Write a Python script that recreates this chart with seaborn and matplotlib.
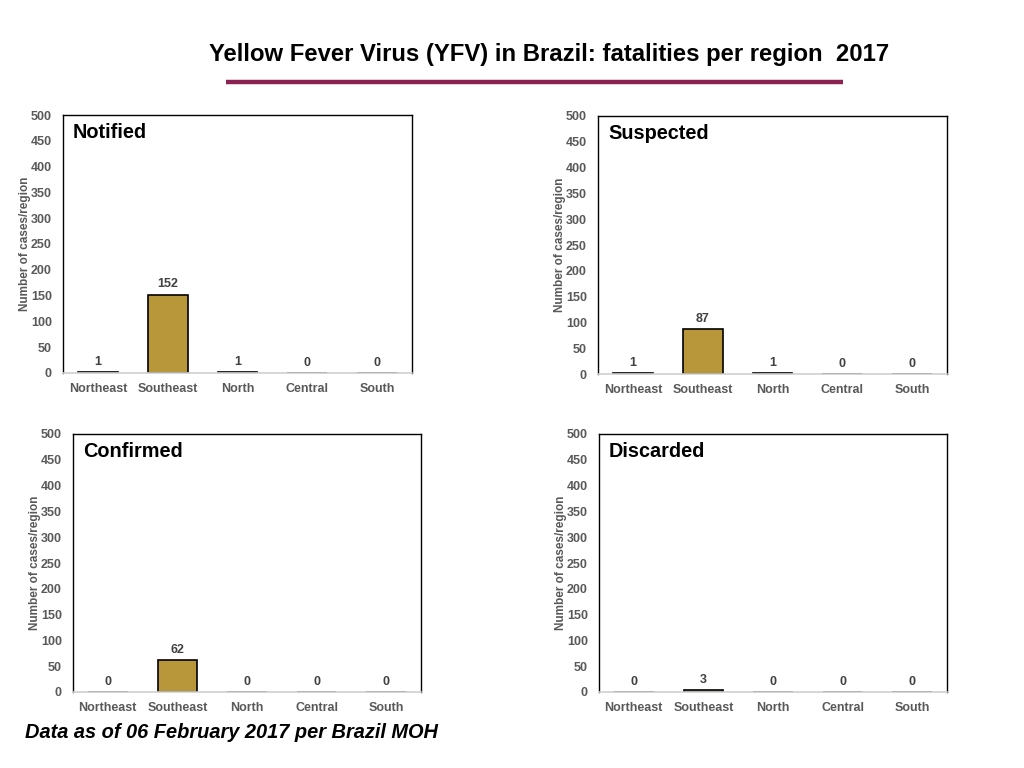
import matplotlib
matplotlib.use("Agg")
import matplotlib.pyplot as plt
import seaborn as sns
import pandas as pd
from matplotlib.lines import Line2D

regions = ["Northeast", "Southeast", "North", "Central", "South"]
notified = [1, 152, 1, 0, 0]
suspected = [1, 87, 1, 0, 0]
confirmed = [0, 62, 0, 0, 0]
discarded = [0, 3, 0, 0, 0]
panel_names = ["Notified", "Suspected", "Confirmed", "Discarded"]
yticks = [0, 50, 100, 150, 200, 250, 300, 350, 400, 450, 500]

sns.set_theme(style="white")
plt.rcParams['font.family'] = ['Liberation Sans', 'DejaVu Sans']

W, H = 1024, 768
fig = plt.figure(figsize=(W / 100, H / 100), dpi=100)
fig.patch.set_facecolor("white")

# axes boxes in pixels: left, top, right, bottom
boxes = [(63, 115, 412, 373), (598, 116, 947, 374),
         (73, 434, 421, 692), (599, 434, 947, 692)]
series = [notified, suspected, confirmed, discarded]
bar_colors = ["#B8963A", "#B8963A", "#B8963A", "#C9B48A"]

tick_gray = "#595959"
for (l, t, r, b), vals, name, bc in zip(boxes, series, panel_names, bar_colors):
    ax = fig.add_axes([l / W, 1 - b / H, (r - l) / W, (b - t) / H])
    df = pd.DataFrame({"region": regions, "value": vals})
    sns.barplot(data=df, x="region", y="value", ax=ax, color=bc,
                saturation=1, width=0.57, edgecolor="black", linewidth=1.2)
    ax.set_xlim(-0.5, 4.5)
    ax.set_ylim(0, 500)
    ax.set_yticks(yticks)
    ax.set_yticklabels([str(v) for v in yticks])
    ax.tick_params(axis="both", length=0, labelsize=9, labelcolor=tick_gray)
    ax.tick_params(axis="y", pad=8)
    ax.tick_params(axis="x", pad=7)
    for lab in ax.get_xticklabels() + ax.get_yticklabels():
        lab.set_fontweight("bold")
    ax.set_xlabel("")
    ax.set_ylabel("Number of cases/region", fontsize=8.5, color=tick_gray,
                  fontweight="bold")
    ax.yaxis.set_label_coords(-32 / (r - l), 0.5)
    for side in ["top", "right", "left"]:
        ax.spines[side].set_visible(True)
        ax.spines[side].set_color("black")
        ax.spines[side].set_linewidth(1.0)
    ax.spines["bottom"].set_color("#d0d0d0")
    ax.spines["bottom"].set_linewidth(1.2)
    for c in ax.containers:
        ax.bar_label(c, labels=[str(v) for v in vals], padding=3,
                     fontsize=9, fontweight="bold", color="#404040")
    ax.text(10 / (r - l), 1 - 8 / (b - t), name, transform=ax.transAxes,
            ha="left", va="top", fontsize=14.3, fontweight="bold", color="black")

fig.text(549 / W, 1 - 54 / H,
         "Yellow Fever Virus (YFV) in Brazil: fatalities per region  2017",
         ha="center", va="center", fontsize=17.2, fontweight="bold",
         color="black")
fig.add_artist(Line2D([226 / W, 843 / W], [1 - 82 / H, 1 - 82 / H],
                      color="#8B2252", linewidth=3.2, solid_capstyle="butt"))
fig.text(25 / W, 1 - 733 / H, "Data as of 06 February 2017 per Brazil MOH",
         ha="left", va="center", fontsize=14.4, fontweight="bold",
         fontstyle="italic", color="black")

fig.savefig("out.png", dpi=100)
